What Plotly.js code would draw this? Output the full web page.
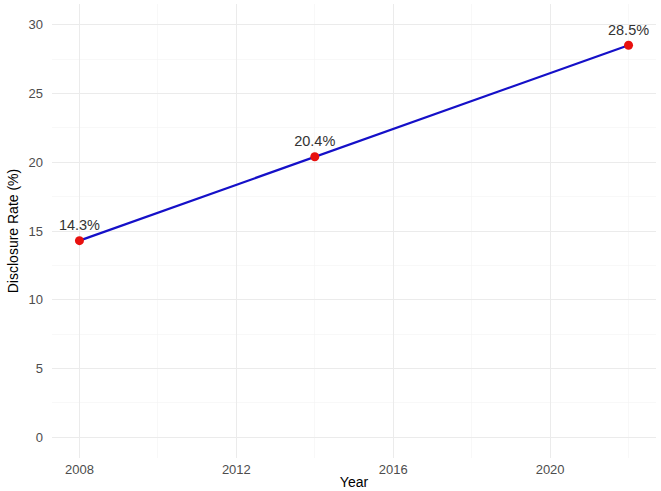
<!DOCTYPE html>
<html>
<head>
<meta charset="utf-8">
<script src="https://cdn.plot.ly/plotly-3.0.1.min.js"></script>
<style>html,body{margin:0;padding:0;background:#fff;}#chart{width:661px;height:491px;}</style>
</head>
<body>
<div id="chart"></div>
<script>
const years = [2008, 2014, 2022];
const rates = [14.3, 20.4, 28.5];
const labels = ["14.3%", "20.4%", "28.5%"];
const xTicks = [2008, 2012, 2016, 2020];
const yTicks = [0, 5, 10, 15, 20, 25, 30];

const font = "Liberation Sans, Arial, sans-serif";
const traces = [
  {x: years, y: rates, type: "scatter", mode: "lines", line: {color: "#1510c8", width: 2.2}, hoverinfo: "skip"},
  {x: years, y: rates, type: "scatter", mode: "markers+text", marker: {color: "#e8110f", size: 9},
   text: labels, textposition: "top center", textfont: {family: font, size: 14.5, color: "#333333"}}
];
const layout = {
  width: 661, height: 491,
  margin: {l: 51.5, r: 4.5, t: 4.4, b: 33.4},
  paper_bgcolor: "#ffffff", plot_bgcolor: "#ffffff",
  showlegend: false,
  font: {family: font},
  xaxis: {
    range: [2007.3, 2022.7], tickvals: xTicks, ticktext: xTicks.map(String),
    showgrid: true, gridcolor: "#ebebeb", gridwidth: 1, zeroline: false, showline: false, ticks: "",
    minor: {dtick: 2, tick0: 2010, showgrid: true, gridcolor: "#f3f3f3", gridwidth: 0.6},
    tickfont: {family: font, size: 13, color: "#4d4d4d"}, ticklabelstandoff: 2,
    title: {text: "Year", font: {family: font, size: 14, color: "#000000"}, standoff: 1}
  },
  yaxis: {
    range: [-1.5, 31.5], tickvals: yTicks, ticktext: yTicks.map(String),
    showgrid: true, gridcolor: "#ebebeb", gridwidth: 1, zeroline: false, showline: false, ticks: "",
    minor: {dtick: 2.5, tick0: 2.5, showgrid: true, gridcolor: "#f3f3f3", gridwidth: 0.6},
    tickfont: {family: font, size: 13, color: "#4d4d4d"}, ticklabelstandoff: 8,
    title: {text: "Disclosure Rate (%)", font: {family: font, size: 14, color: "#000000"}, standoff: 6}
  }
};
Plotly.newPlot("chart", traces, layout, {displayModeBar: false, staticPlot: true});
</script>
</body>
</html>
